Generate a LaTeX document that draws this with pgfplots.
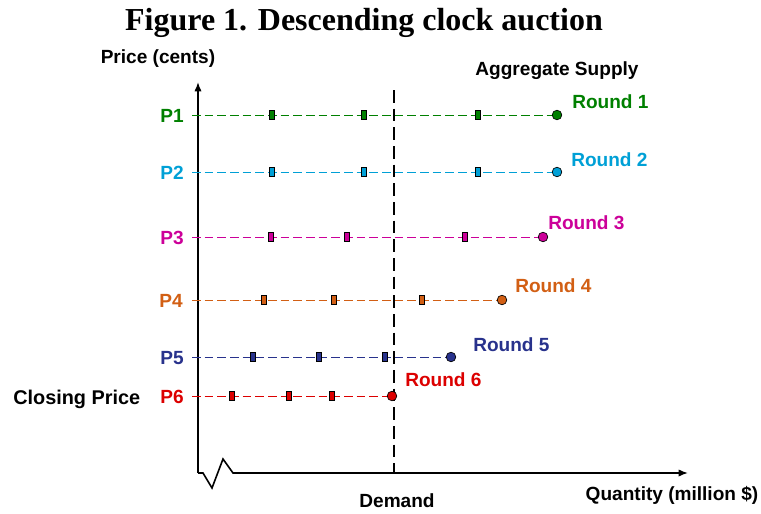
\documentclass[border=0pt]{standalone}
\usepackage{pgfplots}
\pgfplotsset{compat=1.18}
\usepackage{fontspec}
\setmainfont{Liberation Sans}
\newfontfamily\titlefont{Liberation Serif}
\usetikzlibrary{arrows.meta}
\definecolor{cA}{RGB}{0,128,0}
\definecolor{cB}{RGB}{0,160,214}
\definecolor{cC}{RGB}{204,0,153}
\definecolor{cD}{RGB}{210,95,20}
\definecolor{cE}{RGB}{40,50,140}
\definecolor{cF}{RGB}{220,0,0}
\tikzset{lbl/.style={inner sep=0pt, font=\bfseries\fontsize{14.3}{16}\selectfont}}
\pgfplotsset{
  rowline/.style={#1, line width=0.75pt, dash pattern=on 6.5pt off 3pt, forget plot},
  rowmarks/.style={only marks, mark=square*, mark size=3.5pt, mark options={xscale=0.55, draw=black, fill=#1, line width=0.5pt, solid}},
  rowend/.style={only marks, mark=*, mark size=3.6pt, mark options={draw=black, fill=#1, line width=0.5pt, solid}},
}
\begin{document}
\begin{tikzpicture}
\begin{axis}[x=0.75pt, y=0.75pt, xmin=0, xmax=761, ymin=0, ymax=514, y dir=reverse,
  hide axis, clip=false]
% axes
\addplot[black, line width=1.2pt, -{Latex[length=7pt,width=5.5pt]}] coordinates {(198,473)(198,82)};
\addplot[black, line width=1.2pt, line join=miter, -{Latex[length=7pt,width=5.5pt]}] coordinates {(198,473)(203,473)(212,488)(223,459)(233,473)(688,473)};
% row lines
\addplot[rowline=cA] coordinates {(192,115)(557,115)};
\addplot[rowline=cB] coordinates {(192,172)(557,172)};
\addplot[rowline=cC] coordinates {(192,237)(543,237)};
\addplot[rowline=cD] coordinates {(192,300)(502,300)};
\addplot[rowline=cE] coordinates {(192,357)(451,357)};
\addplot[rowline=cF] coordinates {(192,396)(392,396)};
% demand
\addplot[black, line width=1.6pt, dash pattern=on 9.5pt off 4.5pt] coordinates {(394,90)(394,473)};
% markers
\addplot[rowmarks=cA] coordinates {(272,115)(364,115)(478,115)};
\addplot[rowmarks=cB] coordinates {(272,172)(364,172)(478,172)};
\addplot[rowmarks=cC] coordinates {(271,237)(347,237)(465,237)};
\addplot[rowmarks=cD] coordinates {(264,300)(334,300)(422,300)};
\addplot[rowmarks=cE] coordinates {(253,357)(319,357)(385,357)};
\addplot[rowmarks=cF] coordinates {(232,396)(289,396)(332,396)};
\addplot[rowend=cA] coordinates {(557,115)};
\addplot[rowend=cB] coordinates {(557,172)};
\addplot[rowend=cC] coordinates {(543,237)};
\addplot[rowend=cD] coordinates {(502,300)};
\addplot[rowend=cE] coordinates {(451,357)};
\addplot[rowend=cF] coordinates {(392,396)};
% texts
\node[anchor=base, inner sep=0pt, font=\titlefont\bfseries\fontsize{24}{28}\selectfont] at (axis cs:364,31) {Figure 1. Descending clock auction};
\node[lbl, anchor=base] at (axis cs:158,63) {Price (cents)};
\node[lbl, anchor=base] at (axis cs:557,75) {Aggregate Supply};
\node[lbl, anchor=base] at (axis cs:397,507) {Demand};
\node[lbl, anchor=base] at (axis cs:672,500) {Quantity (million \$)};
\node[lbl, anchor=base west, font=\bfseries\fontsize{14.9}{16}\selectfont] at (axis cs:13,404) {Closing Price};
\node[lbl, anchor=base east, text=cA] at (axis cs:184,122) {P1};
\node[lbl, anchor=base east, text=cB] at (axis cs:184,179) {P2};
\node[lbl, anchor=base east, text=cC] at (axis cs:184,244) {P3};
\node[lbl, anchor=base east, text=cD] at (axis cs:183,307) {P4};
\node[lbl, anchor=base east, text=cE] at (axis cs:184,364) {P5};
\node[lbl, anchor=base east, text=cF] at (axis cs:184,403) {P6};
\node[lbl, anchor=base west, text=cA] at (axis cs:572,108) {Round 1};
\node[lbl, anchor=base west, text=cB] at (axis cs:571,166) {Round 2};
\node[lbl, anchor=base west, text=cC] at (axis cs:548,229) {Round 3};
\node[lbl, anchor=base west, text=cD] at (axis cs:515,292) {Round 4};
\node[lbl, anchor=base west, text=cE] at (axis cs:473,351) {Round 5};
\node[lbl, anchor=base west, text=cF] at (axis cs:405,386) {Round 6};
\end{axis}
\pgfresetboundingbox
\path (0,0) rectangle (570.75pt,385.5pt);
\end{tikzpicture}
\end{document}
